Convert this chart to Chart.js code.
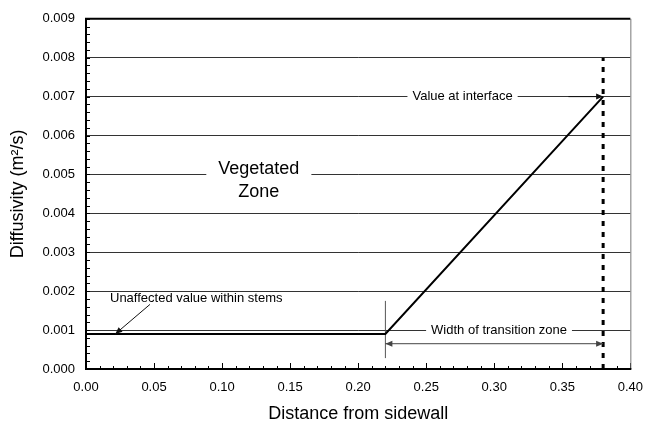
<!DOCTYPE html>
<html>
<head>
<meta charset="utf-8">
<script src="https://cdn.jsdelivr.net/npm/chart.js@4.4.1/dist/chart.umd.min.js"></script>
<style>
  html, body { margin: 0; padding: 0; background: #ffffff; }
  #wrap { width: 654px; height: 432px; }
</style>
</head>
<body>
<div id="wrap"><canvas id="diffChart" width="654" height="432"></canvas></div>
<script>
// --- Dados do perfil de difusividade ---
const profileX = [0.00, 0.22, 0.38];
const profileY = [0.0009, 0.0009, 0.007];

const interfaceX = [0.38, 0.38];
const interfaceY = [0.000, 0.008];

const markerX = [0.22, 0.22];
const markerY = [0.00028, 0.00175];

const xTicks = [0.00, 0.05, 0.10, 0.15, 0.20, 0.25, 0.30, 0.35, 0.40];
const yTicks = [0.000, 0.001, 0.002, 0.003, 0.004, 0.005, 0.006, 0.007, 0.008, 0.009];

// --- Anotações (coordenadas em unidades do gráfico) ---
const labelTexts = ["Value at interface", "Vegetated", "Zone", "Unaffected value within stems", "Width of transition zone"];
const labelX = [0.2767, 0.127, 0.127, 0.081, 0.3035];
const labelY = [0.007, 0.00514, 0.00455, 0.00181, 0.001];

const arrows = [
    { from: [0.3545, 0.007], to: [0.38, 0.007], heads: 1 },
    { from: [0.047, 0.00166], to: [0.0215, 0.0009], heads: 1 },
    { from: [0.22, 0.00065], to: [0.38, 0.00065], heads: 2 }
];

const FONT = "'Liberation Sans', Arial, sans-serif";

function toPoints(xs, ys) {
    return xs.map((x, i) => ({ x: x, y: ys[i] }));
}

function arrowHead(ctx, x1, y1, x2, y2) {
    const a = Math.atan2(y2 - y1, x2 - x1);
    const len = 7, w = 3;
    ctx.beginPath();
    ctx.moveTo(x2, y2);
    ctx.lineTo(x2 - len * Math.cos(a) + w * Math.sin(a), y2 - len * Math.sin(a) - w * Math.cos(a));
    ctx.lineTo(x2 - len * Math.cos(a) - w * Math.sin(a), y2 - len * Math.sin(a) + w * Math.cos(a));
    ctx.closePath();
    ctx.fill();
}

// --- Plugin: moldura, ticks menores, rótulos e setas ---
const decorPlugin = {
    id: 'decor',
    afterDatasetsDraw(chart) {
        const { ctx, chartArea: a, scales: { x, y } } = chart;
        ctx.save();

        // rótulos com fundo branco sobre as linhas de grade
        ctx.textAlign = 'center';
        ctx.textBaseline = 'middle';
        const boxes = [
            { i: 0, size: 13, pad: 5 },
            { i: 4, size: 13, pad: 5 }
        ];
        boxes.forEach(b => {
            ctx.font = b.size + 'px ' + FONT;
            const w = ctx.measureText(labelTexts[b.i]).width;
            const px = x.getPixelForValue(labelX[b.i]);
            const py = y.getPixelForValue(labelY[b.i]);
            ctx.fillStyle = '#ffffff';
            ctx.fillRect(px - w / 2 - b.pad, py - 7, w + 2 * b.pad, 14);
            ctx.fillStyle = '#000000';
            ctx.fillText(labelTexts[b.i], px, py);
        });

        // "Vegetated Zone"
        ctx.font = '18px ' + FONT;
        const vx = x.getPixelForValue(labelX[1]);
        const vw = ctx.measureText(labelTexts[1]).width;
        const vy1 = y.getPixelForValue(labelY[1]);
        const vy2 = y.getPixelForValue(labelY[2]);
        ctx.fillStyle = '#ffffff';
        ctx.fillRect(vx - vw / 2 - 12, vy1 - 10, vw + 24, vy2 - vy1 + 20);
        ctx.fillStyle = '#000000';
        ctx.fillText(labelTexts[1], vx, vy1);
        ctx.fillText(labelTexts[2], vx, vy2);

        // "Unaffected value within stems"
        ctx.font = '13px ' + FONT;
        ctx.fillText(labelTexts[3], x.getPixelForValue(labelX[3]), y.getPixelForValue(labelY[3]));

        // setas
        arrows.forEach((ar, k) => {
            const x1 = x.getPixelForValue(ar.from[0]), y1 = y.getPixelForValue(ar.from[1]);
            const x2 = x.getPixelForValue(ar.to[0]), y2 = y.getPixelForValue(ar.to[1]);
            const col = k === 2 ? '#444444' : '#111111';
            ctx.strokeStyle = col;
            ctx.fillStyle = col;
            ctx.lineWidth = 1;
            ctx.beginPath();
            ctx.moveTo(x1, y1);
            ctx.lineTo(x2, y2);
            ctx.stroke();
            arrowHead(ctx, x1, y1, x2, y2);
            if (ar.heads === 2) arrowHead(ctx, x2, y2, x1, y1);
        });

        // ticks menores voltados para dentro
        ctx.strokeStyle = '#000000';
        ctx.lineWidth = 1;
        ctx.beginPath();
        for (let v = 0; v <= 0.0090001; v += 0.0002) {
            const py = Math.round(y.getPixelForValue(v)) + 0.5;
            ctx.moveTo(a.left, py);
            ctx.lineTo(a.left + 4, py);
        }
        for (let k = 0; k <= 40; k++) {
            const px = Math.round(x.getPixelForValue(k / 100)) + 0.5;
            ctx.moveTo(px, a.bottom);
            ctx.lineTo(px, a.bottom - (k % 5 === 0 ? 6 : 3));
        }
        ctx.stroke();

        // moldura
        ctx.strokeStyle = '#777777';
        ctx.lineWidth = 1;
        ctx.beginPath();
        ctx.moveTo(a.right + 0.5, a.top);
        ctx.lineTo(a.right + 0.5, a.bottom);
        ctx.stroke();
        ctx.strokeStyle = '#000000';
        ctx.lineWidth = 2;
        ctx.beginPath();
        ctx.moveTo(a.right, a.top);
        ctx.lineTo(a.left, a.top);
        ctx.lineTo(a.left, a.bottom);
        ctx.lineTo(a.right + 1, a.bottom);
        ctx.stroke();

        ctx.restore();
    }
};

new Chart(document.getElementById('diffChart').getContext('2d'), {
    type: 'scatter',
    data: {
        datasets: [
            {
                data: toPoints(profileX, profileY),
                showLine: true,
                borderColor: '#000000',
                borderWidth: 2,
                pointRadius: 0
            },
            {
                data: toPoints(interfaceX, interfaceY),
                showLine: true,
                borderColor: '#000000',
                borderWidth: 3,
                borderDash: [5, 6],
                pointRadius: 0
            },
            {
                data: toPoints(markerX, markerY),
                showLine: true,
                borderColor: '#555555',
                borderWidth: 1,
                pointRadius: 0
            }
        ]
    },
    options: {
        responsive: false,
        animation: false,
        layout: { padding: { top: 12, right: 22, left: 0, bottom: 0 } },
        plugins: { legend: { display: false }, tooltip: { enabled: false } },
        scales: {
            x: {
                type: 'linear',
                min: 0, max: 0.4,
                afterBuildTicks: s => { s.ticks = xTicks.map(v => ({ value: v })); },
                afterFit: s => { s.height = 63; },
                grid: { display: false, drawTicks: false },
                border: { display: false },
                ticks: {
                    color: '#000000',
                    padding: 11,
                    maxRotation: 0,
                    font: { size: 13, family: FONT },
                    callback: v => Number(v).toFixed(2)
                },
                title: {
                    display: true,
                    text: 'Distance from sidewall',
                    color: '#000000',
                    font: { size: 18, family: FONT },
                    padding: { top: 0, bottom: 7 }
                }
            },
            y: {
                type: 'linear',
                min: 0, max: 0.009,
                afterBuildTicks: s => { s.ticks = yTicks.map(v => ({ value: v })); },
                afterFit: s => { s.width = 86; },
                grid: {
                    drawTicks: false,
                    lineWidth: 1,
                    color: c => (c.tick && (c.tick.value < 0.0005 || c.tick.value > 0.0085)) ? 'rgba(0,0,0,0)' : '#333333'
                },
                border: { display: false },
                ticks: {
                    color: '#000000',
                    padding: 11,
                    font: { size: 13, family: FONT },
                    callback: v => Number(v).toFixed(3)
                },
                title: {
                    display: true,
                    text: 'Diffusivity (m²/s)',
                    color: '#000000',
                    font: { size: 18, family: FONT },
                    padding: { top: 7, bottom: 0 }
                }
            }
        }
    },
    plugins: [decorPlugin]
});
</script>
</body>
</html>
